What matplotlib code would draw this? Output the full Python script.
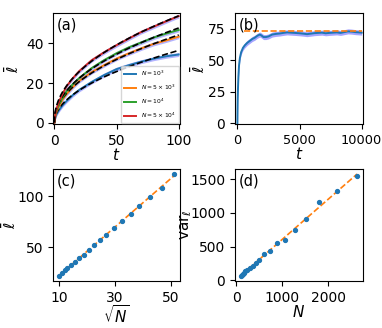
import numpy as np
import matplotlib
matplotlib.use("Agg")
import matplotlib.pyplot as plt

# ---------- data ----------
# panel (a)
t_a = [0, 1, 2, 4, 7, 10, 15, 20, 30, 40, 50, 60, 70, 80, 90, 100]
l_N1e3 = [0, 3, 4.5, 6.5, 9, 11, 14, 16.5, 20.5, 24, 27, 29, 30.8, 32.3, 33.5, 34.4]
l_N5e3 = [0, 4, 6, 8.5, 12, 14.5, 18, 21, 25.5, 29, 32.3, 35, 37.5, 39.8, 41.5, 43.4]
l_N1e4 = [0, 4.5, 6.5, 9.5, 13, 16, 19.5, 22.5, 27.5, 31.5, 35, 38, 40.5, 43, 45, 46.8]
l_N5e4 = [0, 5, 7.5, 11, 15, 18.5, 22.5, 26, 31.5, 35.5, 39.1, 42.5, 45.8, 48.5, 51.2, 53.8]
labels_a = [r"$N=10^3$", r"$N=5\times10^3$", r"$N=10^4$", r"$N=5\times10^4$"]

# panel (b)
t_b = [0, 10, 25, 50, 80, 130, 200, 300, 450, 600, 800, 1000, 1200, 1400, 1600, 1800,
       1900, 2100, 2300, 2500, 2800, 3100, 3400, 3700, 4000, 4300, 4600, 5000, 5300,
       5600, 5900, 6200, 6500, 6800, 7100, 7400, 7700, 8000, 8300, 8600, 8900, 9200,
       9500, 9800, 10000]
l_b = [0, 10, 20, 29, 37, 46, 52, 56.5, 60, 62, 64, 65.5, 67, 68, 69.5, 70.5,
       70, 68.5, 68.5, 69, 70.5, 71, 71.3, 71.8, 72.2, 72, 71.8, 71.5, 71.2,
       70.8, 71.2, 71.6, 71.8, 72, 71.5, 71.8, 72, 72.2, 71.8, 72.4, 73, 72.8,
       72.4, 72.2, 72]
l_b_sat = 73.4
t_b_sat = [500, 10000]

# panels (c) and (d)
sqrtN = [10.0, 11.08, 12.04, 13.0, 14.2, 15.6, 17.15, 18.9, 20.7, 22.5, 24.65,
         27.0, 29.65, 32.4, 35.6, 38.8, 42.5, 46.8, 51.2]
l_c = [21.7, 24.6, 27.3, 29.6, 32.2, 35.5, 39.1, 42.4, 47.0, 52.0, 57.2,
       62.5, 68.8, 76.0, 82.9, 90.5, 99.7, 108.2, 122.0]
N_d = [100, 123, 145, 169, 202, 243, 294, 357, 428, 506, 608, 729, 879, 1050,
       1267, 1505, 1806, 2190, 2621]
var_d = [60, 80, 95, 110, 130, 150, 185, 215, 255, 300, 395, 435, 545, 600,
         750, 910, 1160, 1325, 1550]

# ---------- figure ----------
plt.rcParams["font.size"] = 10
fig = plt.figure(figsize=(3.82, 3.28), dpi=100)

ax_a = fig.add_axes([0.139, 0.622, 0.332, 0.338])
ax_b = fig.add_axes([0.615, 0.622, 0.335, 0.338])
ax_c = fig.add_axes([0.139, 0.143, 0.332, 0.342])
ax_d = fig.add_axes([0.615, 0.143, 0.335, 0.342])

band_col = (0.35, 0.35, 1.0)

# (a)
ta = np.array(t_a, dtype=float)
sel = ta >= 10
for ys, col, lab in zip([l_N1e3, l_N5e3, l_N1e4, l_N5e4], ["C0", "C1", "C2", "C3"], labels_a):
    y = np.array(ys)
    ax_a.fill_between(ta, y - 1.0, y + 1.0, color=band_col, alpha=0.45, lw=0)
    ax_a.plot(ta, y, color=col, lw=1.4, label=lab)
    # power-law fit
    p = np.polyfit(np.log(ta[sel]), np.log(y[sel]), 1)
    tf = np.linspace(0, 100, 200)
    ax_a.plot(tf, np.exp(p[1]) * tf ** p[0], "k--", lw=1.2)
ax_a.set_xlim(-1, 101)
ax_a.set_ylim(-0.7, 55.3)
ax_a.set_xticks([0, 50, 100])
ax_a.set_yticks([0, 20, 40])
ax_a.set_xlabel(r"$t$", fontsize=11)
ax_a.set_ylabel(r"$\bar{\ell}$", fontsize=11)
ax_a.yaxis.set_label_coords(-0.245, 0.5)
ax_a.xaxis.set_label_coords(0.5, -0.205)
ax_a.text(0.03, 0.96, "(a)", transform=ax_a.transAxes, va="top", ha="left", fontsize=10.5)
ax_a.legend(loc="lower right", fontsize=4.3, handlelength=2.0, borderpad=0.5,
            labelspacing=0.75, borderaxespad=0.2, frameon=True)

# (b)
tb = np.array(t_b, dtype=float)
lb = np.array(l_b)
ax_b.fill_between(tb, lb - 2.0, lb + 2.0, color=band_col, alpha=0.55, lw=0)
ax_b.plot(tb, lb, color="C0", lw=1.4)
ax_b.plot(t_b_sat, [l_b_sat, l_b_sat], "--", color="C1", lw=1.2)
ax_b.set_xlim(-200, 10100)
ax_b.set_ylim(-0.5, 87.5)
ax_b.set_xticks([0, 5000, 10000])
ax_b.set_yticks([0, 25, 50, 75])
ax_b.tick_params(axis="x", labelsize=9.3)
ax_b.set_xlabel(r"$t$", fontsize=11)
ax_b.set_ylabel(r"$\bar{\ell}$", fontsize=11)
ax_b.yaxis.set_label_coords(-0.21, 0.5)
ax_b.xaxis.set_label_coords(0.5, -0.2)
ax_b.text(0.03, 0.96, "(b)", transform=ax_b.transAxes, va="top", ha="left", fontsize=10.5)

# (c)
xs = np.array(sqrtN)
yc = np.array(l_c)
pc = np.polyfit(xs, yc, 1)
ax_c.plot(xs, np.polyval(pc, xs), "--", color="C1", lw=1.2)
ax_c.plot(xs, yc, "o", color="C0", ms=2.8)
ax_c.set_xticks([10, 30, 50])
ax_c.set_yticks([50, 100])
ax_c.set_xlabel(r"$\sqrt{N}$", fontsize=11)
ax_c.set_ylabel(r"$\bar{\ell}$", fontsize=11)
ax_c.yaxis.set_label_coords(-0.265, 0.5)
ax_c.xaxis.set_label_coords(0.5, -0.2)
ax_c.text(0.03, 0.96, "(c)", transform=ax_c.transAxes, va="top", ha="left", fontsize=10.5)

# (d)
xd = np.array(N_d, dtype=float)
yd = np.array(var_d, dtype=float)
pd_ = np.polyfit(xd, yd, 1)
ax_d.plot(xd, np.polyval(pd_, xd), "--", color="C1", lw=1.2)
ax_d.plot(xd, yd, "o", color="C0", ms=2.8)
ax_d.set_xticks([0, 1000, 2000])
ax_d.set_yticks([0, 500, 1000, 1500])
ax_d.set_xlabel(r"$N$", fontsize=11)
ax_d.set_ylabel(r"var$_\ell$", fontsize=11)
ax_d.yaxis.set_label_coords(-0.32, 0.5)
ax_d.xaxis.set_label_coords(0.5, -0.2)
ax_d.text(0.03, 0.96, "(d)", transform=ax_d.transAxes, va="top", ha="left", fontsize=10.5)

fig.savefig("out.png", dpi=100)
